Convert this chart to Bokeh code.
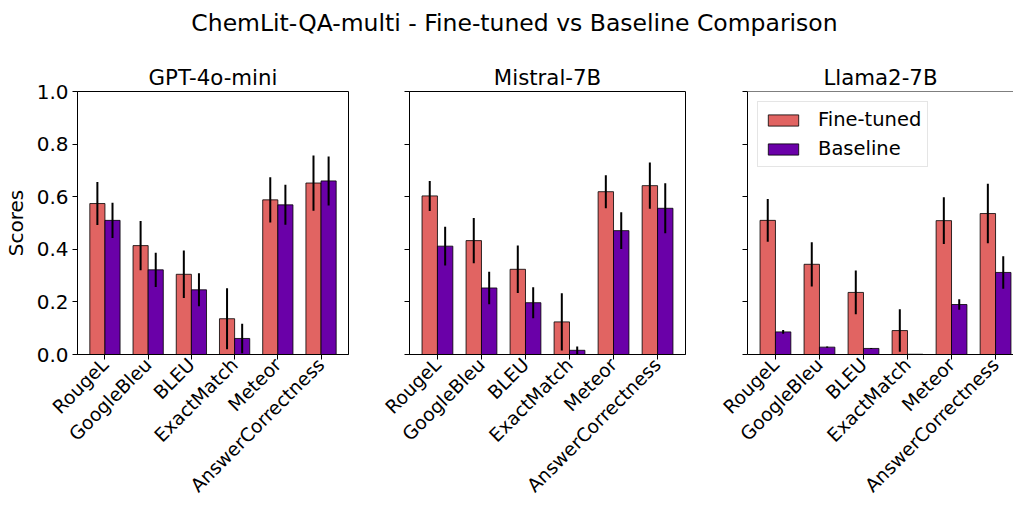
from bokeh.plotting import figure
from bokeh.models import (Range1d, FixedTicker, NumeralTickFormatter, Legend, LegendItem,
                          Span, Div, ColumnDataSource, CustomJSTickFormatter)
from bokeh.layouts import row, column
from bokeh.embed import file_html
from bokeh.resources import INLINE
import math

# ---------------- data ----------------
metrics = ["RougeL", "GoogleBleu", "BLEU", "ExactMatch", "Meteor", "AnswerCorrectness"]
models = ["GPT-4o-mini", "Mistral-7B", "Llama2-7B"]

gpt_ft = [0.574, 0.414, 0.305, 0.136, 0.588, 0.652]
gpt_ft_err = [0.082, 0.094, 0.090, 0.116, 0.086, 0.105]
gpt_base = [0.510, 0.322, 0.246, 0.061, 0.569, 0.660]
gpt_base_err = [0.067, 0.065, 0.063, 0.056, 0.076, 0.093]

mis_ft = [0.603, 0.433, 0.324, 0.124, 0.619, 0.642]
mis_ft_err = [0.057, 0.086, 0.090, 0.109, 0.063, 0.088]
mis_base = [0.412, 0.253, 0.197, 0.016, 0.471, 0.556]
mis_base_err = [0.074, 0.062, 0.059, 0.014, 0.070, 0.095]

lla_ft = [0.510, 0.343, 0.236, 0.091, 0.509, 0.536]
lla_ft_err = [0.081, 0.084, 0.083, 0.081, 0.089, 0.113]
lla_base = [0.086, 0.028, 0.023, 0.001, 0.190, 0.312]
lla_base_err = [0.007, 0.002, 0.002, 0.000, 0.020, 0.062]

y_ticks = [0.0, 0.2, 0.4, 0.6, 0.8, 1.0]

FT_COLOR = "#e16462"
BASE_COLOR = "#6a00a8"
FONT = "DejaVu Sans"
TICK_FS = "20px"
XTICK_FS = "18.7px"
BAR_W = 0.35

series = [
    (gpt_ft, gpt_ft_err, gpt_base, gpt_base_err),
    (mis_ft, mis_ft_err, mis_base, mis_base_err),
    (lla_ft, lla_ft_err, lla_base, lla_base_err),
]

# layout specs: width, border_left, border_right, x_end
specs = [
    (378, 72, 30, 5.635),
    (337, 31, 30, 5.635),
    (298, 32, 0, -0.635 + 266 / (276 / 6.27)),
]

figs = []
for k, (name, (ft, fte, bs, bse), (w, bl, br, xend)) in enumerate(zip(models, series, specs)):
    p = figure(width=w, height=461, min_border_left=bl, min_border_right=br,
               min_border_top=46, min_border_bottom=152,
               x_range=Range1d(-0.635, xend), y_range=Range1d(0, 1.0),
               output_backend="svg", toolbar_location=None, title=name)
    p.title.text_font = FONT
    p.title.text_font_size = "21.3px"
    p.title.text_font_style = "normal"
    p.title.text_color = "black"
    p.title.align = "center"
    p.title.standoff = 3
    if k == 2:
        p.title.offset = 5
    p.xgrid.grid_line_color = None
    p.ygrid.grid_line_color = None
    p.background_fill_color = "white"
    p.border_fill_color = "white"
    if k == 2:
        p.outline_line_color = None
        p.add_layout(Span(location=1.0, dimension="width", line_color="black", line_width=1))
    else:
        p.outline_line_color = "black"
        p.outline_line_width = 1

    idx = list(range(len(metrics)))
    src = ColumnDataSource(dict(
        x_ft=[i - BAR_W / 2 for i in idx], x_b=[i + BAR_W / 2 for i in idx],
        ft=ft, bs=bs,
        ft_lo=[v - e for v, e in zip(ft, fte)], ft_hi=[v + e for v, e in zip(ft, fte)],
        b_lo=[v - e for v, e in zip(bs, bse)], b_hi=[v + e for v, e in zip(bs, bse)],
    ))
    r_ft = p.vbar(x="x_ft", top="ft", bottom=0, width=BAR_W, source=src,
                  fill_color=FT_COLOR, line_color="black", line_alpha=0.8, line_width=1)
    r_b = p.vbar(x="x_b", top="bs", bottom=0, width=BAR_W, source=src,
                 fill_color=BASE_COLOR, line_color="black", line_alpha=0.8, line_width=1)
    p.segment(x0="x_ft", x1="x_ft", y0="ft_lo", y1="ft_hi", source=src,
              line_color="black", line_width=2)
    p.segment(x0="x_b", x1="x_b", y0="b_lo", y1="b_hi", source=src,
              line_color="black", line_width=2)

    # x axis
    xa = p.xaxis[0]
    xa.ticker = FixedTicker(ticks=idx)
    xa.major_label_overrides = {i: m for i, m in zip(idx, metrics)}
    xa.major_label_orientation = math.pi / 4
    xa.major_label_text_font = FONT
    xa.major_label_text_font_size = XTICK_FS
    xa.major_label_text_color = "black"
    xa.major_tick_out = 5
    xa.major_tick_in = 0
    xa.minor_tick_line_color = None
    xa.axis_line_color = "black"
    xa.major_tick_line_color = "black"
    xa.major_label_standoff = 2

    # y axis
    ya = p.yaxis[0]
    ya.ticker = FixedTicker(ticks=y_ticks)
    ya.major_tick_out = 5
    ya.major_tick_in = 0
    ya.minor_tick_line_color = None
    ya.axis_line_color = "black"
    ya.major_tick_line_color = "black"
    ya.major_label_text_font = FONT
    ya.major_label_text_color = "black"
    if k == 0:
        ya.formatter = NumeralTickFormatter(format="0.0")
        ya.major_label_text_font_size = TICK_FS
        ya.major_label_standoff = 4
        ya.axis_label = "Scores"
        ya.axis_label_text_font = FONT
        ya.axis_label_text_font_size = TICK_FS
        ya.axis_label_text_font_style = "normal"
        ya.axis_label_text_color = "black"
        ya.axis_label_standoff = 6
    else:
        ya.formatter = CustomJSTickFormatter(code="return ''")
        ya.major_label_standoff = 0

    if k == 2:
        legend = Legend(items=[LegendItem(label="Fine-tuned", renderers=[r_ft]),
                               LegendItem(label="Baseline", renderers=[r_b])],
                        location="top_left")
        legend.label_text_font = FONT
        legend.label_text_font_size = "19.5px"
        legend.label_text_color = "black"
        legend.glyph_width = 38
        legend.glyph_height = 14
        legend.label_standoff = 16
        legend.padding = 6
        legend.spacing = 6
        legend.margin = 10
        legend.border_line_color = "#cccccc"
        legend.border_line_width = 1
        legend.background_fill_alpha = 0.8
        p.add_layout(legend)
    figs.append(p)

suptitle = Div(
    text=('<div style="box-sizing:border-box;width:1013px;padding-left:16px;padding-top:12px;'
          'text-align:center;font-family:\'DejaVu Sans\';font-size:23.5px;line-height:1;'
          'color:black;white-space:nowrap">'
          'ChemLit-QA-multi - Fine-tuned vs Baseline Comparison</div>'),
    width=1013, height=45, margin=(0, 0, 0, 0))

layout = column(suptitle, row(*figs, spacing=0), spacing=0)

with open("out.html", "w") as f:
    f.write(file_html(layout, INLINE))
